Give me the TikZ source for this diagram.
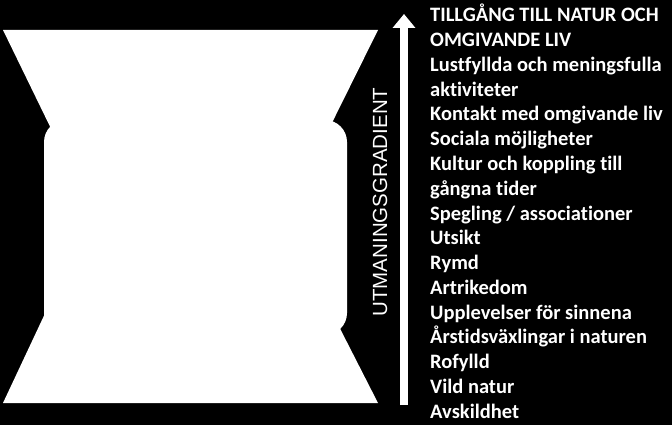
\documentclass[tikz,border=0pt]{standalone}
\usepackage{fontspec}
\setmainfont{Carlito}[Ligatures=CommonOff]
\newfontfamily\gradfont{Liberation Sans}
\usetikzlibrary{positioning,arrows.meta}

\begin{document}
\begin{tikzpicture}[x=1pt, y=-1pt, >={Triangle[width=22pt,length=14pt]}, item/.style={anchor=base west, text=white, inner sep=0pt, font=\bfseries\fontsize{20.5}{20.5}\selectfont}]
	\fill[black] (0,0) rectangle (672,425);
	\fill[white] (3,30) -- (378,30) -- (321,145) -- (59,145) -- cycle;
	\fill[white, rounded corners=22pt] (44,120) rectangle (347,335);
	\fill[white] (3,403) -- (378,403) -- (328,305) -- (49,305) -- cycle;
	\coordinate (gbot) at (404,405);
	\coordinate (gtop) at (404,14);
	\draw[->, white, line width=8pt] (gbot) -- (gtop);
	\node[rotate=90, text=white, font=\gradfont\fontsize{20.5}{20.5}\selectfont](grad) at (380,202){UTMANINGSGRADIENT};
	\foreach \t [count=\i from 0] in {TILLGÅNG TILL NATUR OCH, OMGIVANDE LIV, Lustfyllda och meningsfulla, aktiviteter, Kontakt med omgivande liv, Sociala möjligheter, Kultur och koppling till, gångna tider, Spegling / associationer, Utsikt, Rymd, Artrikedom, Upplevelser för sinnena, Årstidsväxlingar i naturen, Rofylld, Vild natur, Avskildhet}
		\node[item](l\i) at (430,22+24.75*\i){\t};
\end{tikzpicture}
\end{document}
